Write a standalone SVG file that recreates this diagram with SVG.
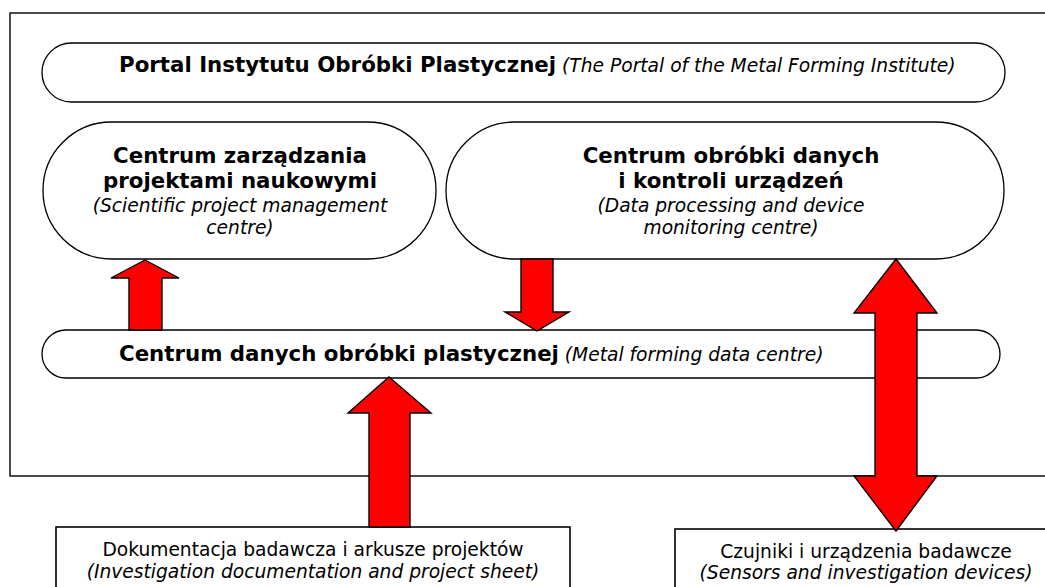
<svg xmlns="http://www.w3.org/2000/svg" width="1045" height="587" viewBox="0 0 1045 587">
<style>
.frame{fill:#fff;stroke:#000;stroke-width:1.4}
.pill{fill:#fff;stroke:#000;stroke-width:1.3}
.box{fill:#fff;stroke:#000;stroke-width:1.6}
.arr{fill:#ff0000;stroke:#000;stroke-width:1.4;stroke-linejoin:miter}
text{font-family:Verdana,"DejaVu Sans",sans-serif;fill:#000}
.b{font-weight:bold;font-size:21.33px}
.i{font-style:italic;font-size:18.67px}
.r{font-size:18.67px}
</style>
<rect width="1045" height="587" fill="#fff"/>
<rect id="frame" class="frame" x="10" y="13" width="1045" height="463"/>
<g id="portal">
<rect class="pill" x="42" y="43" width="963" height="59" rx="29.5" ry="29.5"/>
<text x="119" y="72"><tspan class="b">Portal Instytutu Obróbki Plastycznej</tspan><tspan class="i"> (The Portal of the Metal Forming Institute)</tspan></text>
</g>
<g id="project-centre">
<rect class="pill" x="43" y="122" width="393" height="137" rx="68.5" ry="68.5"/>
<text class="b" x="240" y="163" text-anchor="middle">Centrum zarządzania</text>
<text class="b" x="240" y="188" text-anchor="middle">projektami naukowymi</text>
<text class="i" x="240" y="212" text-anchor="middle">(Scientific project management</text>
<text class="i" x="240" y="234" text-anchor="middle">centre)</text>
</g>
<g id="processing-centre">
<rect class="pill" x="446" y="122" width="558" height="137" rx="68.5" ry="68.5"/>
<text class="b" x="731" y="163" text-anchor="middle">Centrum obróbki danych</text>
<text class="b" x="731" y="188" text-anchor="middle">i kontroli urządzeń</text>
<text class="i" x="731" y="212" text-anchor="middle">(Data processing and device</text>
<text class="i" x="731" y="234" text-anchor="middle">monitoring centre)</text>
</g>
<g id="data-centre">
<rect class="pill" x="42" y="330" width="958" height="48" rx="24" ry="24"/>
<text x="119" y="361"><tspan class="b">Centrum danych obróbki plastycznej</tspan><tspan class="i"> (Metal forming data centre)</tspan></text>
</g>
<g id="documentation">
<rect class="box" x="56" y="527" width="514" height="80"/>
<text class="r" x="313" y="556" text-anchor="middle">Dokumentacja badawcza i arkusze projektów</text>
<text class="i" x="313" y="578" text-anchor="middle">(Investigation documentation and project sheet)</text>
</g>
<g id="sensors">
<rect class="box" x="675" y="529" width="400" height="80"/>
<text class="r" x="866" y="558" text-anchor="middle">Czujniki i urządzenia badawcze</text>
<text class="i" x="866" y="579" text-anchor="middle">(Sensors and investigation devices)</text>
</g>
<g id="connectors">
<polygon class="arr" points="145,260 179,278 162,278 162,330 129,330 129,278 111,278"/>
<polygon class="arr" points="521,259 553,259 553,312 569,312 537,331 505,312 521,312"/>
<polygon class="arr" points="389,377 431,413 410,413 410,527 369,527 369,413 348,413"/>
<polygon class="arr" points="896,259 937,313 917,313 917,476 937,476 896,531 854,476 875,476 875,313 854,313"/>
</g>
</svg>
